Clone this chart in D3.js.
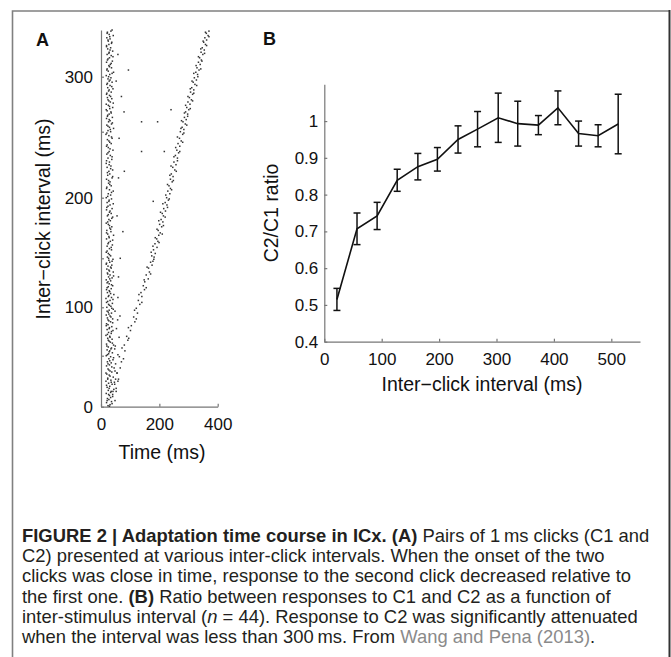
<!DOCTYPE html>
<html>
<head>
<meta charset="utf-8">
<script src="https://cdnjs.cloudflare.com/ajax/libs/d3/7.8.5/d3.min.js"></script>
<style>
  body { margin: 0; background: #fff; }
  svg { display: block; }
  .tick text { font-family: "Liberation Sans", Arial, sans-serif; font-size: 17px; fill: #111; }
  .domain, .tick line { stroke: #777; stroke-width: 1.2; }
  .label { font-family: "Liberation Sans", Arial, sans-serif; font-size: 19.5px; fill: #111; }
  .panel { font-family: "Liberation Sans", Arial, sans-serif; font-size: 18px; font-weight: bold; fill: #111; }
  .caption { font-family: "Liberation Sans", Arial, sans-serif; font-size: 19px; fill: #231f20; }
</style>
</head>
<body>
<script>
// ---- panel A: raster, [inter-click interval (ms), spike time (ms)]
const c1Spikes = [
  [1,24],[2,31],[4,19],[5,36],[7,27],[8,22],[10,40],[11,29],[13,18],[14,33],[16,25],[17,44],[19,21],[20,30],
  [22,38],[23,26],[25,17],[26,34],[28,23],[29,42],[31,28],[32,20],[34,37],[35,31],[37,24],[38,45],[40,19],
  [41,29],[43,35],[44,22],[46,41],[47,27],[49,33],[50,18],[52,26],[53,39],[55,30],[56,21],[58,36],[59,25],
  [61,43],[62,19],[64,32],[65,28],[67,38],[68,23],[70,30],[71,17],[73,35],[74,26],[76,41],[77,21],[79,29],
  [80,37],[82,24],[83,19],[85,33],[86,27],[88,40],[89,22],[91,31],[92,18],[94,36],[95,25],[97,28],[98,42],
  [100,20],[101,34],[103,26],[104,39],[106,23],[107,31],[109,17],[110,36],[112,27],[113,44],[115,22],[116,30],
  [118,19],[119,35],[121,25],[122,40],[124,28],[125,21],[127,33],[128,18],[130,38],[131,26],[133,31],[134,23],
  [136,42],[137,29],[139,20],[140,35],[142,24],[143,37],[145,19],[146,30],[148,27],[149,41],[151,22],[152,33],
  [154,25],[155,18],[157,36],[158,29],[160,21],[161,39],[163,26],[164,32],[166,19],[167,28],[169,43],[170,23],
  [172,34],[173,20],[175,30],[176,37],[178,25],[179,18],[181,32],[182,27],[184,40],[185,22],[187,35],[188,29],
  [190,19],[191,38],[193,24],[194,31],[196,21],[197,27],[199,36],[200,18],[202,33],[203,25],[205,42],[206,29],
  [208,20],[209,35],[211,26],[212,31],[214,19],[215,38],[217,23],[218,30],[220,27],[221,40],[223,21],[224,34],
  [226,18],[227,29],[229,37],[230,24],[232,32],[233,20],[235,28],[236,41],[238,25],[239,19],[241,35],[242,30],
  [244,22],[245,38],[247,27],[248,17],[250,33],[251,24],[253,43],[254,29],[256,20],[257,36],[259,26],[260,31],
  [262,19],[263,39],[265,23],[266,28],[268,34],[269,21],[271,30],[272,40],[274,25],[275,18],[277,32],[278,27],
  [280,37],[281,22],[283,29],[284,19],[286,35],[287,26],[289,41],[290,23],[292,31],[293,20],[295,38],[296,28],
  [298,24],[299,34],[301,18],[302,30],[304,43],[305,25],[307,21],[308,36],[310,27],[311,32],[313,19],[314,39],
  [316,24],[317,29],[319,35],[320,21],[322,28],[323,40],[325,23],[326,33],[328,19],[329,27],[331,37],[332,25],
  [334,31],[335,20],[337,42],[338,28],[340,22],[341,34],
  [0.5,29],[3,38],[6,21],[9,33],[12,26],[15,41],[18,28],[21,19],[24,35],[27,23],[30,31],[33,17],[36,27],
  [39,37],[42,24],[45,30],[48,43],[51,22],[54,28],[57,34],[60,20],[63,39],[66,25],[69,31],[72,22],[75,36],
  [78,28],[81,18],[84,40],[87,24],[90,34],[93,27],[96,21],[99,37],[102,29],[105,19],[108,41],[111,25],
  [114,33],[117,28],[120,21],[123,36],[126,24],[129,30],[132,43],[135,22],[138,27],[141,33],[144,18],[147,38],
  [150,26],[153,29],[156,21],[159,35],[162,24],[165,40],[168,27],[171,19],[174,33],[177,29],[180,23],[183,37],
  [186,25],[189,31],[192,20],[195,42],[198,28],[201,23],[204,36],[207,19],[210,30],[213,26],[216,40],[219,22],
  [222,33],[225,28],[228,19],[231,38],[234,24],[237,31],[240,21],[243,27],[246,36],[249,20],[252,32],[255,24],
  [258,39],[261,28],[264,22],[267,35],[270,18],[273,29],[276,42],[279,24],[282,33],[285,20],[288,28],[291,37],
  [294,22],[297,31],[300,26],[303,38],[306,20],[309,29],[312,35],[315,22],[318,41],[321,27],[324,31],[327,19],
  [330,36],[333,24],[336,30],[339,21],[342,38],
  [6,48],[15,52],[24,46],[33,55],[42,50],[51,58],[60,49],[69,62],[78,53],[87,57],[96,48],[27,50],[57,47]
];
const c2Spikes = [
  [12,40],[18,52],[22,47],[27,60],[33,55],[38,66],[44,70],[49,63],[55,82],[61,80],[66,92],[70,88],[76,101],
  [81,104],[85,116],[90,112],[94,125],[99,121],[103,133],[107,128],[111,140],[115,137],[118,149],[122,145],
  [126,150],[129,162],[133,155],[136,166],[140,163],[143,175],[146,170],[149,181],[152,174],[154,186],[157,180],
  [159,192],[162,185],[164,195],[166,191],[169,198],[171,203],[173,196],[176,208],[178,201],[180,212],[182,206],
  [185,214],[187,210],[189,221],[191,215],[194,226],[196,220],[198,231],[200,225],[203,236],[205,229],[207,238],
  [209,233],[212,244],[214,238],[216,247],[218,241],[221,253],[223,246],[225,257],[227,250],[230,262],[232,255],
  [234,266],[236,260],[239,270],[241,264],[243,275],[245,269],[248,280],[250,272],[252,284],[254,278],[257,289],
  [259,281],[261,292],[263,286],[266,297],[268,290],[270,301],[272,294],[275,305],[277,298],[279,310],[281,303],
  [284,314],[286,307],[288,318],[290,311],[293,322],[295,316],[297,327],[299,320],[302,331],[304,325],[306,336],
  [308,329],[311,340],[313,334],[315,344],[317,338],[320,349],[322,343],[324,354],[326,347],[329,358],[331,352],
  [333,362],[335,356],[337,367],[339,361],[341,370],
  [15,35],[25,58],[35,48],[47,77],[58,72],[68,95],[79,94],[88,121],[97,115],[105,140],[113,130],[120,155],
  [128,148],[134,170],[141,158],[147,178],[151,182],[155,172],[160,178],[163,199],[167,186],[170,210],[174,192],
  [177,214],[181,198],[184,220],[188,204],[192,228],[195,212],[199,234],[202,222],[206,242],[210,228],[213,248],
  [217,236],[220,258],[224,240],[228,262],[231,250],[235,270],[238,256],[242,280],[246,262],[249,284],[253,274],
  [256,294],[260,276],[264,297],[267,286],[271,306],[274,290],[278,314],[282,298],[285,318],[289,306],[292,328],
  [296,312],[300,332],[303,318],[307,342],[310,326],[314,346],[318,334],[321,355],[325,342],[328,362],[332,350],
  [336,370],[340,358]
];
const strays = [
  [306,94],[259,139],[259,194],[270,240],[268,79],[235,139],[235,217],[197,179],[220,80],[91,65],
  [282,70],[215,60],[172,75],[131,60],[296,52],[320,58],[245,62],[185,55],[110,58],[150,66]
];
const rasterXTicks = [0, 200, 400];
const rasterYTicks = [0, 50, 100, 150, 200, 250, 300];

// ---- panel B: C2/C1 ratio vs inter-click interval
const intervals = [22, 57, 92, 127, 163, 197, 233, 267, 303, 337, 373, 407, 443, 477, 512];
const ratio = [0.515, 0.707, 0.742, 0.839, 0.876, 0.896, 0.950, 0.978, 1.009, 0.993, 0.989, 1.036, 0.966, 0.960, 0.992];
const sem = [0.030, 0.043, 0.037, 0.030, 0.036, 0.032, 0.037, 0.048, 0.067, 0.061, 0.026, 0.046, 0.034, 0.030, 0.081];
const ratioXTicks = [0, 100, 200, 300, 400, 500];
const ratioYTicks = [0.4, 0.5, 0.6, 0.7, 0.8, 0.9, 1.0];

const svg = d3.select('body').append('svg')
  .attr('width', 671)
  .attr('height', 657);

// figure frame
svg.append('path')
  .attr('d', 'M12.5,657 V11 H669')
  .attr('fill', 'none')
  .attr('stroke', '#808080')
  .attr('stroke-width', 1.6);
svg.append('line')
  .attr('x1', 669.5).attr('x2', 669.5)
  .attr('y1', 10).attr('y2', 657)
  .attr('stroke', '#333')
  .attr('stroke-width', 2);

// ===== panel A =====
const xA = d3.scaleLinear().domain([0, 400]).range([101, 217.7]);
const yA = d3.scaleLinear()
  .domain([0, 50, 100, 150, 200, 250, 300, 342])
  .range([406.7, 355.7, 307.3, 258.3, 197.7, 131.7, 76.7, 30]);

svg.append('g')
  .attr('transform', `translate(0, ${yA(0)})`)
  .call(d3.axisBottom(xA).tickValues(rasterXTicks).tickSize(-3).tickSizeOuter(0).tickPadding(11));

svg.append('g')
  .attr('transform', `translate(${xA(0)}, 0)`)
  .call(d3.axisLeft(yA).tickValues(rasterYTicks).tickSize(-3).tickSizeOuter(0).tickPadding(8)
    .tickFormat(d => d % 100 === 0 ? d : ''));

const dots = svg.append('g').attr('fill', '#333');
dots.selectAll('rect')
  .data(c1Spikes.concat(c2Spikes, strays))
  .enter()
  .append('rect')
  .attr('x', d => xA(d[1]) - 0.75)
  .attr('y', d => yA(d[0]) - 0.75)
  .attr('width', 1.5)
  .attr('height', 1.5);

svg.append('text')
  .attr('class', 'label')
  .attr('x', 162)
  .attr('y', 459)
  .attr('text-anchor', 'middle')
  .text('Time (ms)');

svg.append('text')
  .attr('class', 'label')
  .attr('transform', 'rotate(-90)')
  .attr('x', -219)
  .attr('y', 50)
  .attr('text-anchor', 'middle')
  .text('Inter\u2212click interval (ms)');

svg.append('text').attr('class', 'panel').attr('x', 36).attr('y', 46).text('A');

// ===== panel B =====
const xB = d3.scaleLinear().domain([0, 550]).range([324.3, 640]);
const yB = d3.scaleLinear().domain([0.4, 1.1]).range([341.7, 84.3]);

svg.append('g')
  .attr('transform', `translate(0, ${yB(0.4)})`)
  .call(d3.axisBottom(xB).tickValues(ratioXTicks).tickSize(-3).tickSizeOuter(0).tickPadding(11));

svg.append('g')
  .attr('transform', `translate(${xB(0)}, 0)`)
  .call(d3.axisLeft(yB).tickValues(ratioYTicks).tickSize(-3).tickSizeOuter(0).tickPadding(6)
    .tickFormat(d => +d.toFixed(1)));

const pts = intervals.map((x, i) => ({ x: x, y: ratio[i], e: sem[i] }));

const line = d3.line().x(d => xB(d.x)).y(d => yB(d.y));
svg.append('path')
  .datum(pts)
  .attr('d', line)
  .attr('fill', 'none')
  .attr('stroke', '#111')
  .attr('stroke-width', 1.6);

const bars = svg.append('g')
  .attr('stroke', '#111')
  .attr('stroke-width', 1.5)
  .selectAll('g')
  .data(pts)
  .enter()
  .append('g');

bars.append('line')
  .attr('x1', d => xB(d.x)).attr('x2', d => xB(d.x))
  .attr('y1', d => yB(d.y - d.e)).attr('y2', d => yB(d.y + d.e));
bars.append('line')
  .attr('x1', d => xB(d.x) - 3.5).attr('x2', d => xB(d.x) + 3.5)
  .attr('y1', d => yB(d.y + d.e)).attr('y2', d => yB(d.y + d.e));
bars.append('line')
  .attr('x1', d => xB(d.x) - 3.5).attr('x2', d => xB(d.x) + 3.5)
  .attr('y1', d => yB(d.y - d.e)).attr('y2', d => yB(d.y - d.e));

svg.append('text')
  .attr('class', 'label')
  .attr('x', 482)
  .attr('y', 391)
  .attr('text-anchor', 'middle')
  .text('Inter\u2212click interval (ms)');

svg.append('text')
  .attr('class', 'label')
  .attr('transform', 'rotate(-90)')
  .attr('x', -213)
  .attr('y', 278)
  .attr('text-anchor', 'middle')
  .text('C2/C1 ratio');

svg.append('text').attr('class', 'panel').attr('x', 263).attr('y', 45).text('B');

// ===== caption (condensed face faked with a horizontal squeeze) =====
const caption = [
  [['FIGURE 2 | Adaptation time course in ICx. (A)', 'b'], [' Pairs of 1\u2009ms clicks (C1 and', '']],
  [['C2) presented at various inter-click intervals. When the onset of the two', '']],
  [['clicks was close in time, response to the second click decreased relative to', '']],
  [['the first one. ', ''], ['(B)', 'b'], [' Ratio between responses to C1 and C2 as a function of', '']],
  [['inter-stimulus interval (', ''], ['n', 'i'], [' = 44). Response to C2 was significantly attenuated', '']],
  [['when the interval was less than 300\u2009ms. From ', ''], ['Wang and Pena (2013)', 'g'], ['.', '']]
];

const cap = svg.append('g')
  .attr('class', 'caption')
  .attr('transform', 'translate(22, 0) scale(0.97, 1)');
caption.forEach((segs, i) => {
  const t = cap.append('text')
    .attr('x', 0)
    .attr('y', 542 + i * 20.2);
  segs.forEach(s => {
    t.append('tspan')
      .attr('font-weight', s[1] === 'b' ? 'bold' : null)
      .attr('font-style', s[1] === 'i' ? 'italic' : null)
      .attr('fill', s[1] === 'g' ? '#8a8a8a' : null)
      .text(s[0]);
  });
});
</script>
</body>
</html>
